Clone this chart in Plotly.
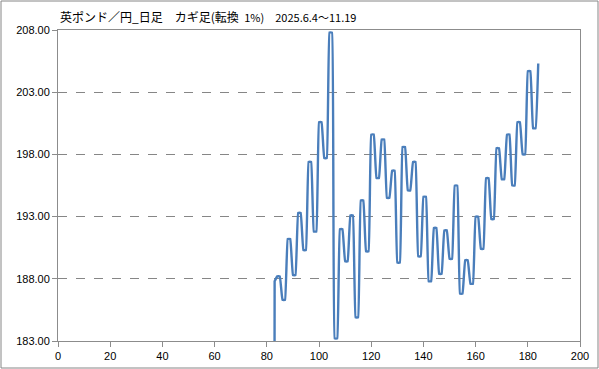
import plotly.graph_objects as go

# Kagi chart data: GBP/JPY daily, reversal 1%  (x index, price level)
x_start = 82
kagi_values = [
    0.0, 187.8,
    188.2, 188.2, 186.3, 186.3, 191.2, 191.2, 188.3, 188.3,
    193.3, 193.3, 190.3, 190.3, 197.4, 197.4, 191.8, 191.8,
    200.6, 200.6, 197.7, 197.7, 207.8, 207.8, 183.2, 183.2,
    192.0, 192.0, 189.4, 189.4, 193.1, 193.1, 184.9, 184.9,
    194.3, 194.3, 190.2, 190.2, 199.6, 199.6, 196.1, 196.1,
    199.2, 199.2, 194.5, 194.5, 196.7, 196.7, 189.3, 189.3,
    198.6, 198.6, 195.1, 195.1, 197.4, 197.4, 189.8, 189.8,
    194.6, 194.6, 187.8, 187.8, 192.1, 192.1, 188.4, 188.4,
    191.9, 191.9, 189.6, 189.6, 195.5, 195.5, 186.8, 186.8,
    189.5, 189.5, 187.6, 187.6, 193.0, 193.0, 190.4, 190.4,
    196.1, 196.1, 192.8, 192.8, 198.5, 198.5, 196.0, 196.0,
    199.6, 199.6, 195.5, 195.5, 200.6, 200.6, 198.0, 198.0,
    204.7, 204.7, 200.1, 200.1, 205.3,
]
x_values = list(range(x_start, x_start + len(kagi_values)))

y_ticks = [183, 188, 193, 198, 203, 208]
y_tick_labels = ["183.00", "188.00", "193.00", "198.00", "203.00", "208.00"]
x_ticks = [0, 20, 40, 60, 80, 100, 120, 140, 160, 180, 200]

title_main = "英ポンド／円_日足\u3000カギ足(転換"
title_sub = "\u2002" + "1%)" + "\u3000" + "2025.6.4～11.19"

fig = go.Figure()
fig.add_trace(go.Scatter(
    x=x_values, y=kagi_values, mode="lines",
    line=dict(color="#4a7ebb", width=2.4, shape="spline", smoothing=0.2),
    showlegend=False,
))

axis_color = "#8c8c8c"
font_ticks = dict(family="Liberation Sans, Arial, sans-serif", size=11, color="#000000")

fig.update_layout(
    width=599, height=369,
    margin=dict(l=58, r=19, t=30, b=28),
    paper_bgcolor="white", plot_bgcolor="white",
    xaxis=dict(
        range=[0, 200], tickvals=x_ticks, ticktext=[str(v) for v in x_ticks],
        showgrid=False, zeroline=False, automargin=False,
        showline=True, linecolor=axis_color, linewidth=1, mirror=True,
        ticks="outside", ticklen=5, tickcolor=axis_color,
        tickfont=font_ticks, fixedrange=True,
    ),
    yaxis=dict(
        range=[183, 208], tickvals=y_ticks, ticktext=y_tick_labels,
        showgrid=True, gridcolor="#868686", griddash="dash", gridwidth=1,
        zeroline=False, automargin=False,
        showline=True, linecolor=axis_color, linewidth=1, mirror=True,
        ticks="outside", ticklen=5, tickcolor=axis_color,
        tickfont=font_ticks, fixedrange=True,
    ),
    annotations=[dict(
        xref="paper", yref="paper", x=0.0, y=1.042, xanchor="left", yanchor="middle",
        showarrow=False,
        text=title_main + "<span style='font-size:11px'>" + title_sub + "</span>",
        font=dict(family="Noto Sans CJK JP, sans-serif", size=12, color="#000000"),
    )],
    shapes=[dict(
        type="rect", xref="paper", yref="paper",
        x0=(1 - 58) / 522, x1=(598 - 58) / 522,
        y0=(341 - 368) / 311, y1=(341 - 1) / 311,
        line=dict(color="#868686", width=1), fillcolor="rgba(0,0,0,0)", layer="below",
    )],
)

fig.write_html("out.html")
